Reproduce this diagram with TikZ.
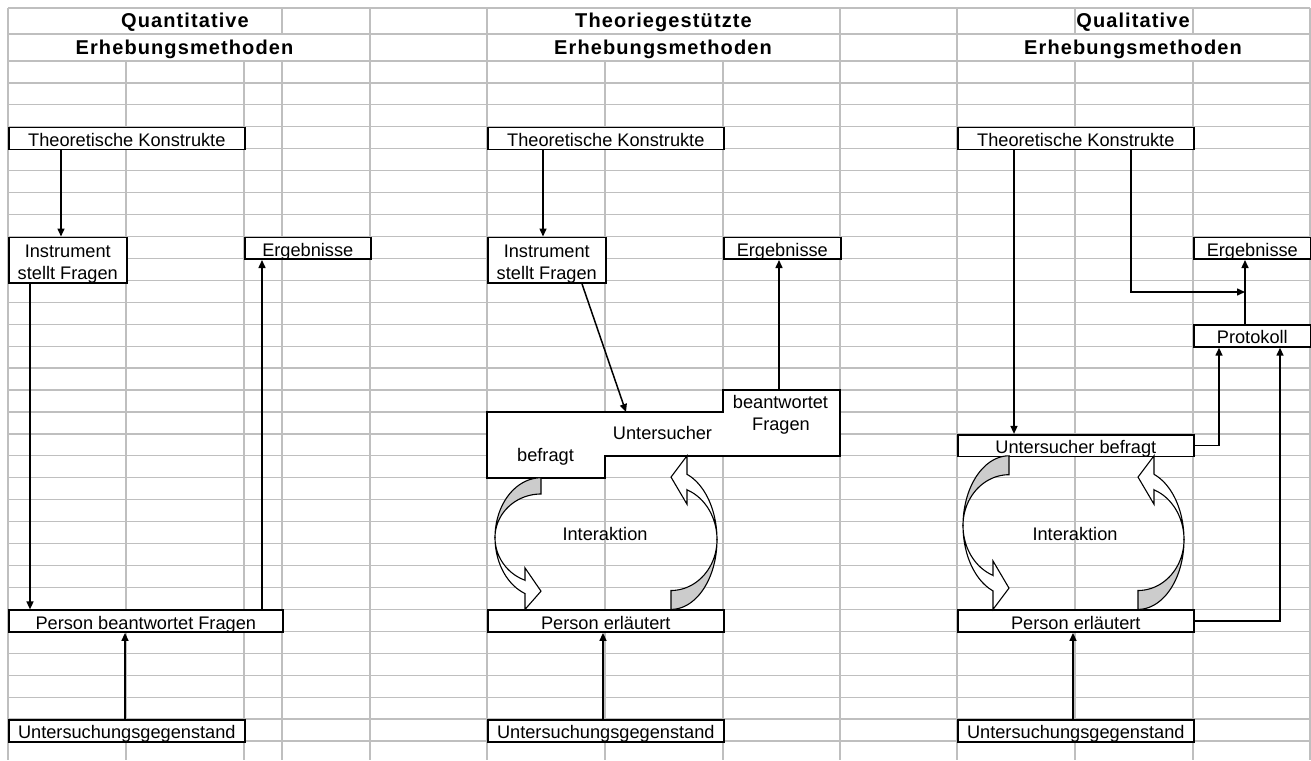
\documentclass[tikz,border=0pt]{standalone}
\usepackage{fontspec}
\setmainfont{Liberation Sans}
\newfontfamily\headfont[LetterSpace=5.5]{Liberation Sans}
\usetikzlibrary{arrows.meta}

\begin{document}
\begin{tikzpicture}[x=1pt, y=-1pt, >={Triangle[length=8pt, width=7pt]},
    font=\fontsize{18.2}{22}\selectfont,
    gridline/.style={draw=gray!50, line width=1.2pt},
    cellbox/.style={draw, line width=1.6pt, fill=white, inner sep=0pt, anchor=north west,
      minimum height=21.9pt, text height=18pt, text depth=2pt},
    twoline/.style={draw, line width=1.6pt, fill=white, inner sep=0pt, anchor=north west,
      minimum height=43.9pt, align=center},
    head/.style={font=\fontsize{20}{22}\selectfont\headfont\bfseries, anchor=base, inner sep=0pt},
    txt/.style={anchor=base, inner sep=0pt},
    link/.style={->, line width=1.5pt},
    bendarrow/.pic={
      \draw[line width=1.1pt, fill=gray!40]
        plot[domain=270:180, samples=40] ({46*cos(\x)}, {59+59*sin(\x)})
        -- plot[domain=180:270, samples=40] ({46*cos(\x)}, {59+43*sin(\x)}) -- cycle;
      \draw[line width=1.1pt, fill=white]
        plot[domain=180:110.4, samples=40] ({46*cos(\x)}, {59+59*sin(\x)})
        -- (-16,130) -- (0,112) -- (-16,89) -- (-16,101.2)
        -- plot[domain=110.4:180, samples=40] ({46*cos(\x)}, {59+45*sin(\x)}) -- cycle;
    }]

  \useasboundingbox (0,0) rectangle (1311,760);

  % Grid
  \draw[gridline] (8,8) -- (1310,8);
  \draw[gridline] (8,34) -- (1310,34);
  \foreach \r in {0,...,31}
  \draw[gridline] (8,{61+21.935*\r}) -- (1310,{61+21.935*\r});
  \foreach \c in {8,126,244,282,370,487,605,723,840,957,1075,1193,1310}
  \draw[gridline] (\c,61) -- (\c,760);
  \foreach \c in {8,282,370,487,840,957,1075,1193,1310}
  \draw[gridline] (\c,8) -- (\c,34);
  \foreach \c in {8,370,487,840,957,1310}
  \draw[gridline] (\c,34) -- (\c,61);

  % Headings
  \node[head] (headA1) at (185,27.5) {Quantitative};
  \node[head] (headA2) at (184.5,55) {Erhebungsmethoden};
  \node[head] (headB1) at (663.5,27.5) {Theoriegestützte};
  \node[head] (headB2) at (663,55) {Erhebungsmethoden};
  \node[head] (headC1) at (1133,27.5) {Qualitative};
  \node[head] (headC2) at (1133,55) {Erhebungsmethoden};

  % Quantitative
  \node[cellbox, minimum width=236pt] (tkA) at (8,126.8) {Theoretische Konstrukte};
  \node[twoline, minimum width=118pt] (instrA) at (8,236.5) {\rule{0pt}{20pt}Instrument\\stellt Fragen};
  \node[cellbox, minimum width=126pt] (ergA) at (244,236.5) {Ergebnisse};
  \node[cellbox, minimum width=274pt] (persA) at (8,609.4) {Person beantwortet Fragen};
  \node[cellbox, minimum width=236pt] (gegA) at (8,719.1) {Untersuchungsgegenstand};

  % Theoriegestuetzt
  \node[cellbox, minimum width=236pt] (tkB) at (487,126.8) {Theoretische Konstrukte};
  \node[twoline, minimum width=118pt] (instrB) at (487,236.5) {\rule{0pt}{20pt}Instrument\\stellt Fragen};
  \node[cellbox, minimum width=117pt] (ergB) at (723,236.5) {Ergebnisse};
  \node[cellbox, minimum width=236pt] (persB) at (487,609.4) {Person erläutert};
  \node[cellbox, minimum width=236pt] (gegB) at (487,719.1) {Untersuchungsgegenstand};
  \draw[line width=1.6pt, fill=white] (487,412) -- (723,412) -- (723,390) -- (840,390)
    -- (840,455.8) -- (605,455.8) -- (605,477.8) -- (487,477.8) -- cycle;
  \node[txt] (antwB) at (780.5,408.5) {beantwortet};
  \node[txt] (fragB) at (781,430.5) {Fragen};
  \node[txt] (untB) at (662.5,439.5) {Untersucher};
  \node[txt] (befrB) at (545.5,461) {befragt};
  \coordinate (untTopB) at (626,412);
  \coordinate (antwTopB) at (779,390);
  \node[txt] (interB) at (605,540.6) {Interaktion};

  % Qualitative
  \node[cellbox, minimum width=236pt] (tkC) at (957,126.8) {Theoretische Konstrukte};
  \node[cellbox, minimum width=117pt] (ergC) at (1193,236.5) {Ergebnisse};
  \node[cellbox, minimum width=117pt] (protC) at (1193,324.2) {Protokoll};
  \node[cellbox, minimum width=236pt] (untC) at (957,433.9) {Untersucher befragt};
  \node[cellbox, minimum width=236pt] (persC) at (957,609.4) {Person erläutert};
  \node[cellbox, minimum width=236pt] (gegC) at (957,719.1) {Untersuchungsgegenstand};
  \coordinate (joinC) at (1245,292);
  \node[txt] (interC) at (1075,540.6) {Interaktion};

  % Interaction arrows
  \pic[yscale=131.6/130] at (541,477.8) {bendarrow};
  \pic[xscale=-1, yscale=-153.6/130] at (671,609.4) {bendarrow};
  \pic[yscale=153.6/130] at (1009,455.8) {bendarrow};
  \pic[xscale=-1, yscale=-153.6/130] at (1138,609.4) {bendarrow};

  % Connections quantitative
  \draw[link] ([xshift=53pt]tkA.south west) -- ([xshift=53pt]instrA.north west);
  \draw[link] ([xshift=22pt]instrA.south west) -- ([xshift=22pt]persA.north west);
  \draw[link] ([xshift=254pt]persA.north west) -- ([xshift=18pt]ergA.south west);
  \draw[link] ([xshift=117pt]gegA.north west) -- ([xshift=117pt]persA.south west);

  % Connections theoriegestuetzt
  \draw[link] ([xshift=56pt]tkB.south west) -- ([xshift=56pt]instrB.north west);
  \draw[link] ([xshift=95pt]instrB.south west) -- (untTopB);
  \draw[link] (antwTopB) -- ([xshift=56pt]ergB.south west);
  \draw[link] ([xshift=116pt]gegB.north west) -- ([xshift=116pt]persB.south west);

  % Connections qualitative
  \draw[link] ([xshift=57pt]tkC.south west) -- ([xshift=57pt]untC.north west);
  \draw[link] ([xshift=174pt]tkC.south west) |- (joinC);
  \draw[link] ([xshift=52pt]protC.north west) -- ([xshift=52pt]ergC.south west);
  \draw[link] (untC.east) -| ([xshift=26pt]protC.south west);
  \draw[link] (persC.east) -| ([xshift=87pt]protC.south west);
  \draw[link] ([xshift=116pt]gegC.north west) -- ([xshift=116pt]persC.south west);

\end{tikzpicture}
\end{document}
